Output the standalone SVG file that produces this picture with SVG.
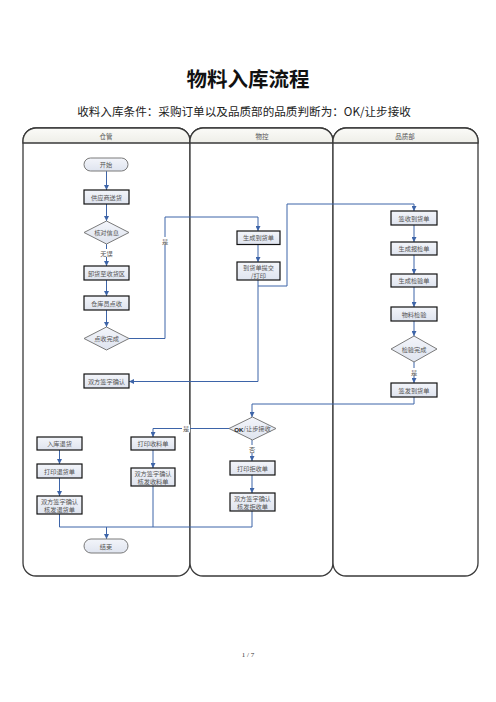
<svg xmlns="http://www.w3.org/2000/svg" width="496" height="702" viewBox="0 0 496 702">
<defs>
<linearGradient id="nf" x1="0" y1="0" x2="0" y2="1">
<stop offset="0" stop-color="#f3f5fa"/>
<stop offset="1" stop-color="#dfe4ef"/>
</linearGradient>
<linearGradient id="hf" x1="0" y1="0" x2="0" y2="1">
<stop offset="0" stop-color="#fbfbf8"/>
<stop offset="1" stop-color="#eeeee8"/>
</linearGradient>
<marker id="ar" viewBox="0 0 8 8" markerWidth="5" markerHeight="5" refX="8" refY="4" orient="auto" markerUnits="userSpaceOnUse">
<path d="M0,0 L8,4 L0,8 z" fill="#3d64a8"/>
</marker>
<style>
.lane{fill:#fff;stroke:#3a3a3a;stroke-width:1.3}
.hdr{fill:url(#hf);stroke:#3a3a3a;stroke-width:1.3}
.ht{font-family:"Liberation Serif","Noto Sans CJK SC",serif;font-size:6.5px;fill:#555;text-anchor:middle}
.box{fill:url(#nf);stroke:#111;stroke-width:1.2}
.soft{fill:url(#nf);stroke:#7a7a7a;stroke-width:1}
.t{font-family:"Noto Sans CJK SC",serif;font-size:6.2px;fill:#555;text-anchor:middle;dominant-baseline:central}
.c{fill:none;stroke:#3d64a8;stroke-width:1}
.ca{fill:none;stroke:#3d64a8;stroke-width:1;marker-end:url(#ar)}
.lb{font-family:"Noto Sans CJK SC",serif;font-size:6.2px;fill:#555;text-anchor:middle;dominant-baseline:central}
</style>
</defs>
<rect width="496" height="702" fill="#fff"/>
<text x="248" y="87" font-family="Noto Sans CJK SC, sans-serif" font-size="20.5" font-weight="bold" text-anchor="middle" fill="#111">物料入库流程</text>
<text x="244" y="116" font-family="Noto Sans CJK SC, sans-serif" font-size="11.6" text-anchor="middle" fill="#222">收料入库条件：采购订单以及品质部的品质判断为：OK/让步接收</text>
<text x="248" y="657" font-family="Liberation Serif, serif" font-size="7" text-anchor="middle" fill="#333">1 / 7</text>

<g id="lanes">
<g id="lane-cangguan">
<rect class="lane" x="23" y="128" width="167" height="448" rx="13"/>
<path class="hdr" d="M23,143 V141 A13,13 0 0 1 36,128 H177 A13,13 0 0 1 190,141 V143 Z"/>
<text class="ht" x="106" y="139">仓管</text>
</g>
<g id="lane-wukong">
<rect class="lane" x="190" y="128" width="143" height="448" rx="13"/>
<path class="hdr" d="M190,143 V141 A13,13 0 0 1 203,128 H320 A13,13 0 0 1 333,141 V143 Z"/>
<text class="ht" x="262" y="139">物控</text>
</g>
<g id="lane-pinzhi">
<rect class="lane" x="333" y="128" width="145" height="448" rx="13"/>
<path class="hdr" d="M333,143 V141 A13,13 0 0 1 346,128 H465 A13,13 0 0 1 478,141 V143 Z"/>
<text class="ht" x="405" y="139">品质部</text>
</g>
</g>

<g id="connectors">
<path class="ca" d="M106.5,171 V190"/>
<path class="ca" d="M106.5,204 V221"/>
<path class="ca" d="M106.5,244 V266"/>
<path class="ca" d="M106.5,280 V296"/>
<path class="ca" d="M106.5,310 V327"/>
<path class="ca" d="M129,338.5 H165 V217 H258 V231"/>
<path class="ca" d="M258,244.5 V262"/>
<path class="ca" d="M258,280 V381.5 H129"/>
<path class="ca" d="M258,286 H287 V204 H414 V211"/>
<path class="ca" d="M414,225 V242"/>
<path class="ca" d="M414,255 V274"/>
<path class="ca" d="M414,287 V307"/>
<path class="ca" d="M414,321 V336"/>
<path class="ca" d="M414,362 V383"/>
<path class="ca" d="M414,397 V404 H252 V417"/>
<path class="ca" d="M229,428.5 H153 V437"/>
<path class="ca" d="M252,440 V461"/>
<path class="ca" d="M252,475 V493"/>
<path class="ca" d="M59.5,450 V464"/>
<path class="ca" d="M59.5,478 V496"/>
<path class="ca" d="M153,450 V468"/>
<path class="c" d="M252,511 V527 H59.5 V514"/>
<path class="c" d="M153,486 V527"/>
<path class="ca" d="M106.5,527 V539"/>
<rect x="100" y="249" width="13" height="8" fill="#fff"/>
<text class="lb" x="106.5" y="253">无误</text>
<rect x="161" y="237" width="8" height="8" fill="#fff"/>
<text class="lb" x="165" y="241">是</text>
<rect x="410" y="368" width="8" height="8" fill="#fff"/>
<text class="lb" x="414" y="372">是</text>
<rect x="182" y="424.5" width="8" height="8" fill="#fff"/>
<text class="lb" x="186" y="428.5">是</text>
<rect x="248" y="445" width="8" height="8" fill="#fff"/>
<text class="lb" x="252" y="449">否</text>
</g>

<g id="n-start"><rect class="soft" x="84" y="158" width="44" height="13" rx="6.5"/><text class="t" x="106" y="164.5">开始</text></g>
<g id="n-songhuo"><rect class="box" x="84" y="190" width="45" height="14"/><text class="t" x="106.5" y="197">供应商送货</text></g>
<g id="n-hedui"><polygon class="soft" points="106.5,221 129,232.5 106.5,244 84,232.5"/><text class="t" x="106.5" y="232.5">核对信息</text></g>
<g id="n-xiehuo"><rect class="box" x="84" y="266" width="45" height="14"/><text class="t" x="106.5" y="273">卸货至收货区</text></g>
<g id="n-dianshou"><rect class="box" x="84" y="296" width="45" height="14"/><text class="t" x="106.5" y="303">仓库员点收</text></g>
<g id="n-dianshouwc"><polygon class="soft" points="106.5,327 129,338.5 106.5,350 84,338.5"/><text class="t" x="106.5" y="338.5">点收完成</text></g>
<g id="n-qianzi1"><rect class="box" x="84" y="374" width="45" height="14"/><text class="t" x="106.5" y="381">双方签字确认</text></g>

<g id="n-daohuodan"><rect class="box" x="237" y="231" width="43" height="13.5"/><text class="t" x="258.5" y="237.7">生成到货单</text></g>
<g id="n-tijiao"><rect class="box" x="237" y="262" width="43" height="18"/><text class="t" x="258.5" y="267.5">到货单提交</text><text class="t" x="258.5" y="275">/打印</text></g>

<g id="n-qianshou"><rect class="box" x="391" y="211" width="46" height="14"/><text class="t" x="414" y="218">签收到货单</text></g>
<g id="n-baojian"><rect class="box" x="391" y="242" width="46" height="13"/><text class="t" x="414" y="248.5">生成报检单</text></g>
<g id="n-jianyandan"><rect class="box" x="391" y="274" width="46" height="13"/><text class="t" x="414" y="280.5">生成检验单</text></g>
<g id="n-jianyan"><rect class="box" x="391" y="307" width="46" height="14"/><text class="t" x="414" y="314">物料检验</text></g>
<g id="n-jianyanwc"><polygon class="soft" points="414,336 437,349 414,362 391,349"/><text class="t" x="414" y="349">检验完成</text></g>
<g id="n-qianfa"><rect class="box" x="391" y="383" width="46" height="14"/><text class="t" x="414" y="390">签发到货单</text></g>

<g id="n-ok"><polygon class="soft" points="252.5,417 276,428.5 252.5,440 229,428.5"/><text class="t" x="252.5" y="428.5"><tspan font-family="Liberation Sans, sans-serif" font-weight="bold" fill="#222">OK</tspan>/让步接收</text></g>
<g id="n-jushou"><rect class="box" x="230" y="461" width="45" height="14"/><text class="t" x="252.5" y="468">打印拒收单</text></g>
<g id="n-hefajushou"><rect class="box" x="230" y="493" width="45" height="18"/><text class="t" x="252.5" y="498.5">双方签字确认</text><text class="t" x="252.5" y="506">核发拒收单</text></g>

<g id="n-tuihuo"><rect class="box" x="37" y="437" width="45" height="13"/><text class="t" x="59.5" y="443.5">入库退货</text></g>
<g id="n-dayintuihuo"><rect class="box" x="37" y="464" width="45" height="14"/><text class="t" x="59.5" y="471">打印退货单</text></g>
<g id="n-hefatuihuo"><rect class="box" x="37" y="496" width="45" height="18"/><text class="t" x="59.5" y="501.5">双方签字确认</text><text class="t" x="59.5" y="509">核发退货单</text></g>
<g id="n-shouliao"><rect class="box" x="131" y="437" width="44" height="13"/><text class="t" x="153" y="443.5">打印收料单</text></g>
<g id="n-hefashouliao"><rect class="box" x="131" y="468" width="44" height="18"/><text class="t" x="153" y="473.5">双方签字确认</text><text class="t" x="153" y="481">核发收料单</text></g>
<g id="n-end"><rect class="soft" x="84" y="539" width="44" height="14" rx="7"/><text class="t" x="106" y="546">结束</text></g>
</svg>
